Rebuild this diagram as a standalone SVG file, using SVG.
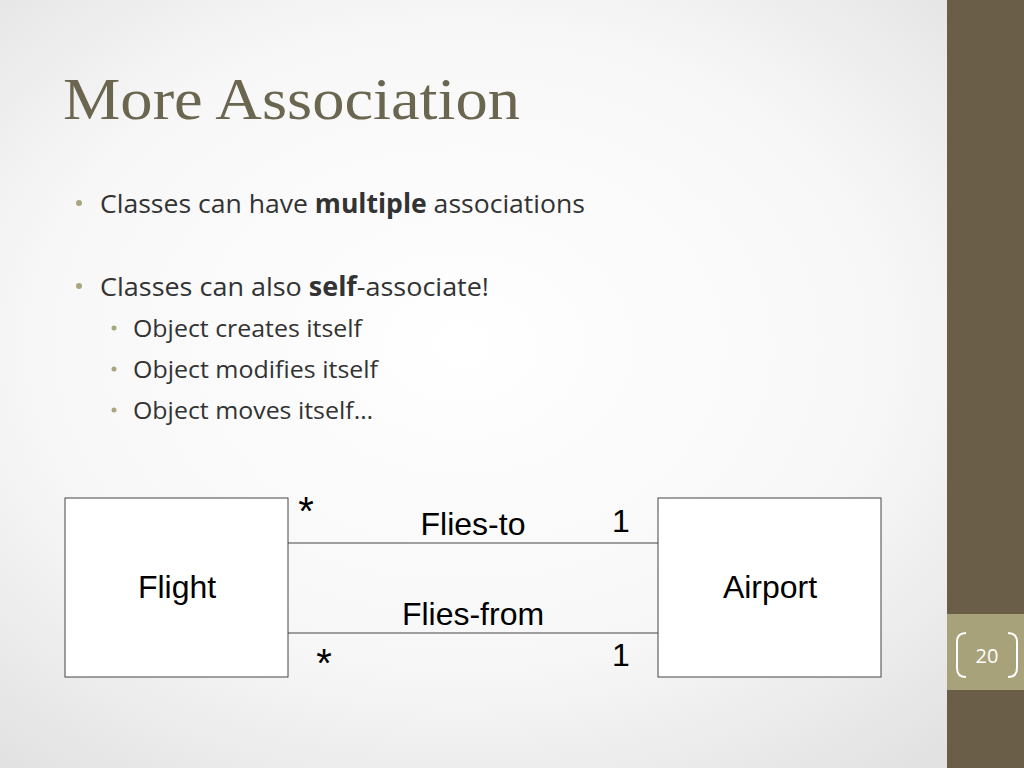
<svg xmlns="http://www.w3.org/2000/svg" width="1024" height="768" viewBox="0 0 1024 768">
<defs>
<radialGradient id="bg" cx="45%" cy="45%" r="70%">
<stop offset="0" stop-color="#ffffff"/><stop offset="0.6" stop-color="#f7f7f7"/><stop offset="1" stop-color="#e2e2e2"/>
</radialGradient>
<style>
.t{font-family:"Open Sans","Noto Sans",sans-serif;fill:#333}
.a{font-family:"Liberation Sans",Arial,sans-serif;fill:#000}
.box{fill:#fff;stroke:#444;stroke-width:1}
.ln{stroke:#444;stroke-width:1}
.bul{fill:#a9a57f}
</style>
</defs>
<rect width="1024" height="768" fill="url(#bg)"/>
<rect x="947" y="0" width="77" height="768" fill="#6b5e48"/>
<rect x="947" y="614" width="77" height="76" fill="#a8a27a"/>
<path d="M966,633 Q957,633 957,642 L957,668 Q957,677 966,677" fill="none" stroke="#fff" stroke-width="2"/>
<path d="M1008,633 Q1017,633 1017,642 L1017,668 Q1017,677 1008,677" fill="none" stroke="#fff" stroke-width="2"/>
<text x="987" y="663" text-anchor="middle" font-family="Open Sans,sans-serif" font-size="20" fill="#fff">20</text>
<text x="63" y="119" font-family="Liberation Serif,serif" font-size="60" fill="#6b6650" textLength="457" lengthAdjust="spacingAndGlyphs">More Association</text>
<circle class="bul" cx="79" cy="203" r="3"/>
<text class="t" x="100" y="213" font-size="26" textLength="485" lengthAdjust="spacingAndGlyphs">Classes can have <tspan font-weight="bold">multiple</tspan> associations</text>
<circle class="bul" cx="79" cy="286" r="3"/>
<text class="t" x="100" y="296" font-size="26" textLength="389" lengthAdjust="spacingAndGlyphs">Classes can also <tspan font-weight="bold">self</tspan>-associate!</text>
<circle class="bul" cx="114" cy="328" r="2.5"/>
<text class="t" x="133" y="337" font-size="23" textLength="229" lengthAdjust="spacingAndGlyphs">Object creates itself</text>
<circle class="bul" cx="114" cy="369" r="2.5"/>
<text class="t" x="133" y="378" font-size="23" textLength="245" lengthAdjust="spacingAndGlyphs">Object modifies itself</text>
<circle class="bul" cx="114" cy="410" r="2.5"/>
<text class="t" x="133" y="419" font-size="23" textLength="240" lengthAdjust="spacingAndGlyphs">Object moves itself…</text>
<g id="connectors">
<line class="ln" x1="288" y1="543" x2="658" y2="543"/>
<line class="ln" x1="288" y1="633" x2="658" y2="633"/>
<text class="a" x="473" y="535" font-size="32" text-anchor="middle">Flies-to</text>
<text class="a" x="473" y="625" font-size="32" text-anchor="middle">Flies-from</text>
<text class="a" x="306" y="525" font-size="40" text-anchor="middle">*</text>
<text class="a" x="324" y="677" font-size="40" text-anchor="middle">*</text>
<text class="a" x="621" y="532" font-size="32" text-anchor="middle">1</text>
<text class="a" x="621" y="666" font-size="32" text-anchor="middle">1</text>
</g>
<g id="flight"><rect class="box" x="65" y="498" width="223" height="179"/>
<text class="a" x="177" y="598" font-size="32" text-anchor="middle">Flight</text></g>
<g id="airport"><rect class="box" x="658" y="498" width="223" height="179"/>
<text class="a" x="770" y="598" font-size="32" text-anchor="middle">Airport</text></g>
</svg>
